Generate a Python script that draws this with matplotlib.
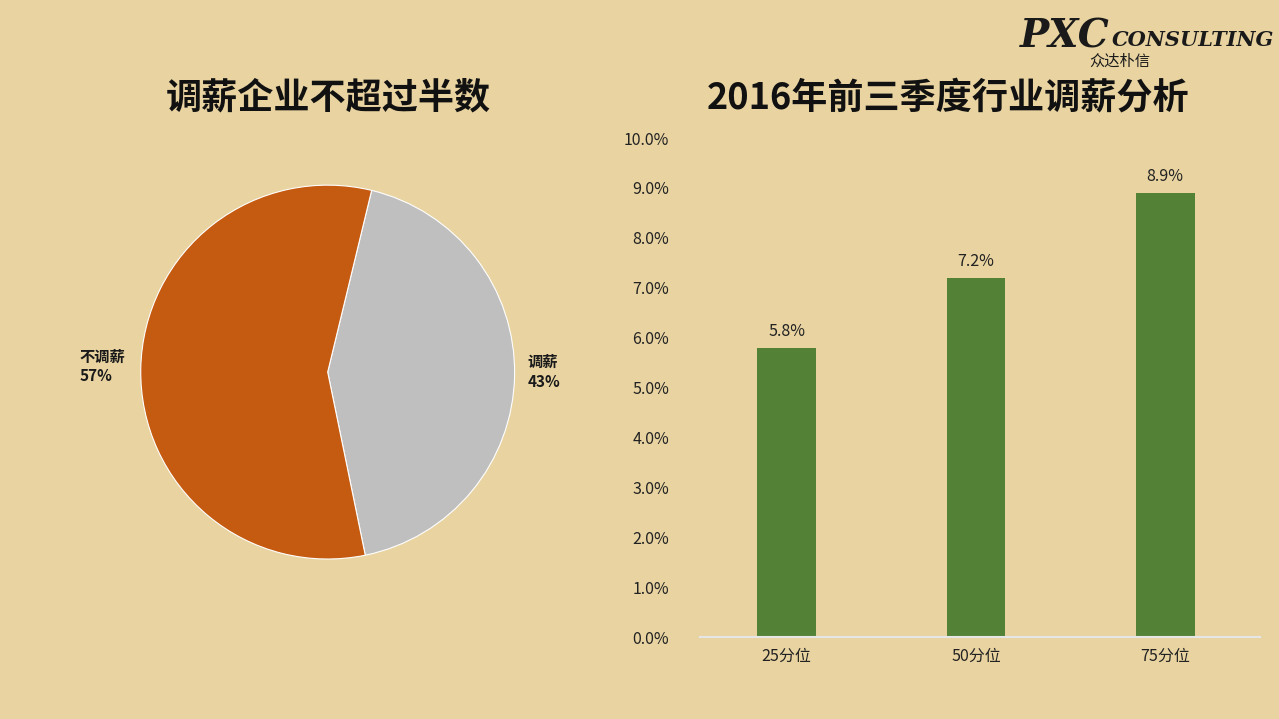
import matplotlib
matplotlib.use("Agg")
import matplotlib.pyplot as plt

plt.rcParams['font.family'] = ['Noto Sans CJK SC', 'DejaVu Sans']

pie_labels = ['调薪', '不调薪']
pie_values = [43, 57]
pie_colors = ['#BFBFBF', '#C55A11']

bar_cats = ['25分位', '50分位', '75分位']
bar_vals = [0.058, 0.072, 0.089]
yticks = [i / 100 for i in range(11)]

bg = '#E8D3A1'
fig = plt.figure(figsize=(12.79, 7.19), dpi=100, facecolor=bg)

ax1 = fig.add_axes([0.110, 0.2225, 0.2924, 0.520])
ax1.set_facecolor(bg)
ax1.pie(pie_values, colors=pie_colors, startangle=76.4, counterclock=False,
        wedgeprops=dict(edgecolor='white', linewidth=0.8))
ax1.set_xlim(-1, 1)
ax1.set_ylim(-1, 1)
ax1.set_aspect('equal')
ax1.axis('off')
ax1.text(1.07, 0.0, f'{pie_labels[0]}\n{pie_values[0]}%', ha='left', va='center',
         fontsize=11, fontweight='bold', color='#1a1a1a', linespacing=1.3)
ax1.text(-1.33, 0.03, f'{pie_labels[1]}\n{pie_values[1]}%', ha='left', va='center',
         fontsize=11, fontweight='bold', color='#1a1a1a', linespacing=1.3)

fig.text(328 / 1279, 1 - 98 / 719, '调薪企业不超过半数', ha='center', va='center',
         fontsize=26, fontweight='bold', color='#111111')
fig.text(948 / 1279, 1 - 98 / 719, '2016年前三季度行业调薪分析', ha='center', va='center',
         fontsize=26, fontweight='bold', color='#111111')

ax2 = fig.add_axes([0.547, 0.114, 0.438, 0.694])
ax2.set_facecolor('none')
x = range(len(bar_cats))
ax2.bar(x, bar_vals, width=0.31, color='#538135')
for xi, v in zip(x, bar_vals):
    ax2.text(xi, v + 0.0015, f'{v*100:.1f}%', ha='center', va='bottom', fontsize=11.5, color='#222222')
ax2.set_xlim(-0.46, 2.5)
ax2.set_ylim(0, 0.10)
ax2.set_yticks(yticks)
ax2.set_yticklabels([f'{t*100:.1f}%' for t in yticks], fontsize=11.5, color='#222222')
ax2.set_xticks(list(x))
ax2.set_xticklabels(bar_cats, fontsize=11.5, color='#222222')
for s in ['top', 'right', 'left']:
    ax2.spines[s].set_visible(False)
ax2.spines['bottom'].set_color('#E6E6E6')
ax2.spines['bottom'].set_linewidth(1.5)
ax2.tick_params(axis='y', length=0, pad=22)
ax2.tick_params(axis='x', length=0, pad=8)

fig.text(1020 / 1279, 1 - 36 / 719, 'PXC', fontsize=28, fontweight='bold', style='italic',
         family='DejaVu Serif', color='#1a1a1a', va='center', ha='left')
fig.text(1112 / 1279, 1 - 40 / 719, 'CONSULTING', fontsize=15, fontweight='bold', style='italic',
         family='DejaVu Serif', color='#1a1a1a', va='center', ha='left')
fig.text(1120 / 1279, 1 - 61 / 719, '众达朴信', fontsize=11, color='#1a1a1a', va='center', ha='center')

fig.savefig('out.png', dpi=100, facecolor=bg)
